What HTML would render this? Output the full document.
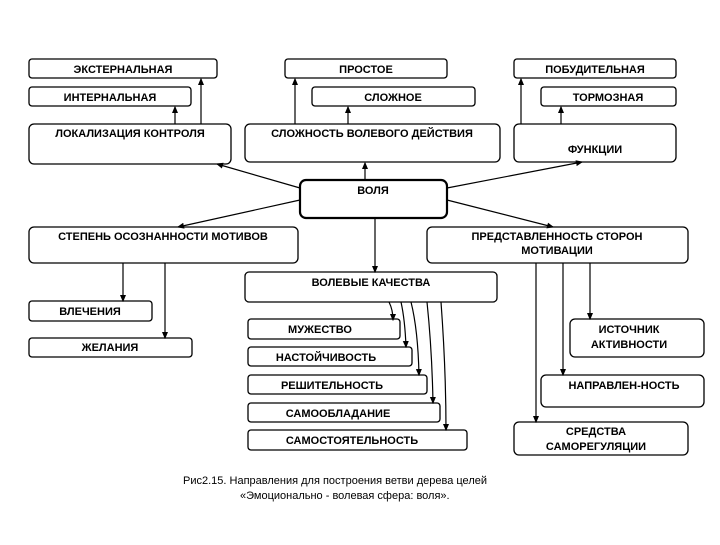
<!DOCTYPE html>
<html><head><meta charset="utf-8"><style>
html,body{margin:0;padding:0;background:#fff;}
svg text{font-family:"Liberation Sans",sans-serif;font-size:11px;font-weight:bold;fill:#000;}
</style></head><body>
<svg width="720" height="540" viewBox="0 0 720 540" xmlns="http://www.w3.org/2000/svg">
<defs><marker id="a" markerWidth="6" markerHeight="6" refX="5" refY="3" orient="auto"><path d="M0,0.5 L6,3 L0,5.5z" fill="#000"/></marker></defs>
<g fill="#fff" stroke="#000" stroke-width="1.3">
<rect x="29" y="59" width="188" height="19" rx="3"/>
<rect x="29" y="87" width="162" height="19" rx="3"/>
<rect x="29" y="124" width="202" height="40" rx="5"/>
<rect x="285" y="59" width="162" height="19" rx="3"/>
<rect x="312" y="87" width="163" height="19" rx="3"/>
<rect x="245" y="124" width="255" height="38" rx="5"/>
<rect x="514" y="59" width="162" height="19" rx="3"/>
<rect x="541" y="87" width="135" height="19" rx="3"/>
<rect x="514" y="124" width="162" height="38" rx="5"/>
<rect x="300" y="180" width="147" height="38" rx="6" stroke-width="2.2"/>
<rect x="29" y="227" width="269" height="36" rx="5"/>
<rect x="427" y="227" width="261" height="36" rx="5"/>
<rect x="245" y="272" width="252" height="30" rx="4"/>
<rect x="29" y="301" width="123" height="20" rx="3"/>
<rect x="29" y="338" width="163" height="19" rx="3"/>
<rect x="248" y="319" width="152" height="20" rx="3"/>
<rect x="248" y="347" width="164" height="19" rx="3"/>
<rect x="248" y="375" width="179" height="19" rx="3"/>
<rect x="248" y="403" width="192" height="19" rx="3"/>
<rect x="248" y="430" width="219" height="20" rx="3"/>
<rect x="570" y="319" width="134" height="38" rx="5"/>
<rect x="541" y="375" width="163" height="32" rx="5"/>
<rect x="514" y="422" width="174" height="33" rx="5"/>
</g>
<g stroke="#000" stroke-width="1.2" fill="none" marker-end="url(#a)">
<line x1="175" y1="124" x2="175" y2="107"/>
<line x1="201" y1="124" x2="201" y2="79"/>
<line x1="295" y1="124" x2="295" y2="79"/>
<line x1="348" y1="124" x2="348" y2="107"/>
<line x1="521" y1="124" x2="521" y2="79"/>
<line x1="561" y1="124" x2="561" y2="107"/>
<line x1="365" y1="180" x2="365" y2="163"/>
<line x1="300" y1="188" x2="217" y2="164"/>
<line x1="300" y1="200" x2="178" y2="227"/>
<line x1="447" y1="188" x2="582" y2="162"/>
<line x1="447" y1="200" x2="553" y2="227"/>
<line x1="375" y1="218" x2="375" y2="272"/>
<line x1="123" y1="263" x2="123" y2="301"/>
<line x1="165" y1="263" x2="165" y2="338"/>
<line x1="590" y1="263" x2="590" y2="319"/>
<line x1="563" y1="263" x2="563" y2="375"/>
<line x1="536" y1="263" x2="536" y2="422"/>
<path d="M389,302 Q393,310 393,320"/>
<path d="M401,302 Q405,320 406,347"/>
<path d="M411,302 Q418,330 419,375"/>
<path d="M427,302 Q432,350 433,403"/>
<path d="M441,302 Q446,370 446,430"/>
</g>
<g text-anchor="middle">
<text x="123" y="73">ЭКСТЕРНАЛЬНАЯ</text>
<text x="110" y="101">ИНТЕРНАЛЬНАЯ</text>
<text x="130" y="137">ЛОКАЛИЗАЦИЯ КОНТРОЛЯ</text>
<text x="366" y="73">ПРОСТОЕ</text>
<text x="393" y="101">СЛОЖНОЕ</text>
<text x="372" y="137">СЛОЖНОСТЬ ВОЛЕВОГО ДЕЙСТВИЯ</text>
<text x="595" y="73">ПОБУДИТЕЛЬНАЯ</text>
<text x="608" y="101">ТОРМОЗНАЯ</text>
<text x="595" y="153">ФУНКЦИИ</text>
<text x="373" y="194">ВОЛЯ</text>
<text x="163" y="240">СТЕПЕНЬ ОСОЗНАННОСТИ МОТИВОВ</text>
<text x="557" y="240">ПРЕДСТАВЛЕННОСТЬ СТОРОН</text>
<text x="557" y="254">МОТИВАЦИИ</text>
<text x="371" y="286">ВОЛЕВЫЕ КАЧЕСТВА</text>
<text x="90" y="315">ВЛЕЧЕНИЯ</text>
<text x="110" y="351">ЖЕЛАНИЯ</text>
<text x="320" y="333">МУЖЕСТВО</text>
<text x="326" y="361">НАСТОЙЧИВОСТЬ</text>
<text x="332" y="389">РЕШИТЕЛЬНОСТЬ</text>
<text x="338" y="417">САМООБЛАДАНИЕ</text>
<text x="352" y="444">САМОСТОЯТЕЛЬНОСТЬ</text>
<text x="629" y="333">ИСТОЧНИК</text>
<text x="629" y="348">АКТИВНОСТИ</text>
<text x="624" y="389">НАПРАВЛЕН-НОСТЬ</text>
<text x="596" y="435">СРЕДСТВА</text>
<text x="596" y="450">САМОРЕГУЛЯЦИИ</text>
</g>
<text x="183" y="484" style="font-weight:normal;font-size:11px">Рис2.15.  Направления для построения ветви дерева целей</text>
<text x="240" y="499" style="font-weight:normal;font-size:11px">«Эмоционально - волевая сфера: воля».</text>
</svg>
</body></html>
